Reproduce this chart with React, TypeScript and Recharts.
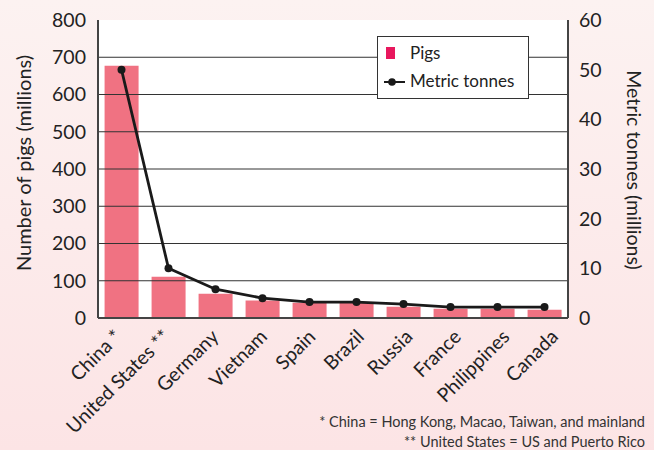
import React from 'react';
import {
  ComposedChart,
  Bar,
  Line,
  XAxis,
  YAxis,
  CartesianGrid,
  ReferenceLine,
  Legend,
} from 'recharts';

const countries = [
  'China *',
  'United States **',
  'Germany',
  'Vietnam',
  'Spain',
  'Brazil',
  'Russia',
  'France',
  'Philippines',
  'Canada',
];
const pigs = [677, 111, 65, 47, 41, 41, 30, 25, 25, 22];
const tonnes = [50, 10, 5.8, 4.0, 3.2, 3.2, 2.8, 2.2, 2.2, 2.2];
const leftTicks = [0, 100, 200, 300, 400, 500, 600, 700, 800];
const rightTicks = [0, 10, 20, 30, 40, 50, 60];
const gridValues = [100, 200, 300, 400, 500, 600, 700];
const seriesNames = ['Pigs', 'Metric tonnes'];
const leftTitle = 'Number of pigs (millions)';
const rightTitle = 'Metric tonnes (millions)';
const footnotes = [
  '* China = Hong Kong, Macao, Taiwan, and mainland',
  '** United States = US and Puerto Rico',
];

const data = countries.map((name, i) => ({ name, pigs: pigs[i], tonnes: tonnes[i] }));

const FONT = 'Lato, "Open Sans", sans-serif';
const TEXT = '#222';
const BAR = '#f07282';
const LEG_SQ = '#e8175d';

const XTick = (props: any) => {
  const { x, y, payload, index } = props;
  const off = 8 + (index - 4.5) * 1.5;
  return (
    <g transform={`translate(${x + off},${y + 20})`}>
      <text
        x={0}
        y={0}
        textAnchor="end"
        transform="rotate(-45)"
        fontSize={19.5}
        fill={TEXT}
        fontFamily={FONT}
      >
        {payload.value}
      </text>
    </g>
  );
};

const LeftTitle = (props: any) => {
  const vb = props.viewBox || { x: 0, y: 20, width: 98, height: 298 };
  const cx = vb.x + 23;
  const cy = vb.y + vb.height / 2 - 6;
  return (
    <text
      x={cx}
      y={cy}
      textAnchor="middle"
      dominantBaseline="central"
      transform={`rotate(-90, ${cx}, ${cy})`}
      fontSize={20}
      fill={TEXT}
      fontFamily={FONT}
    >
      {leftTitle}
    </text>
  );
};

const RightTitle = (props: any) => {
  const vb = props.viewBox || { x: 568, y: 20, width: 86, height: 298 };
  const cx = vb.x + 66;
  const cy = vb.y + vb.height / 2 + 1;
  return (
    <text
      x={cx}
      y={cy}
      textAnchor="middle"
      dominantBaseline="central"
      transform={`rotate(90, ${cx}, ${cy})`}
      fontSize={19.5}
      fill={TEXT}
      fontFamily={FONT}
    >
      {rightTitle}
    </text>
  );
};

const LegendBox = () => (
  <div
    style={{
      width: 152,
      height: 63,
      boxSizing: 'border-box',
      border: '1.5px solid #333',
      background: '#fff',
      position: 'relative',
      fontFamily: FONT,
      fontSize: 17,
      color: TEXT,
    }}
  >
    <div
      style={{
        position: 'absolute',
        left: 8,
        top: 9.5,
        width: 9,
        height: 12,
        background: LEG_SQ,
      }}
    />
    <div style={{ position: 'absolute', left: 32, top: 5, lineHeight: '22px' }}>{seriesNames[0]}</div>
    <svg
      width={22}
      height={12}
      style={{ position: 'absolute', left: 6, top: 38.5 }}
    >
      <line x1={0} y1={6} x2={21} y2={6} stroke="#1a1a1a" strokeWidth={2} />
      <circle cx={8} cy={6} r={3.8} fill="#1a1a1a" />
    </svg>
    <div style={{ position: 'absolute', left: 32, top: 32.5, lineHeight: '22px' }}>{seriesNames[1]}</div>
  </div>
);

export default function App() {
  return (
    <div
      style={{
        position: 'absolute',
        left: 0,
        top: 0,
        width: 654,
        height: 450,
        background: 'linear-gradient(180deg, #fcf2f1 0%, #fce4e5 100%)',
        fontFamily: FONT,
      }}
    >
      <ComposedChart
        width={654}
        height={450}
        data={data}
        margin={{ top: 20, right: 0, bottom: 0, left: 0 }}
        barCategoryGap="14%"
      >
        <CartesianGrid horizontal={false} vertical={false} fill="#fff" fillOpacity={1} />
        {gridValues.map((v) => (
          <ReferenceLine key={v} y={v} yAxisId="left" stroke="#333" strokeWidth={1} />
        ))}
        <XAxis
          dataKey="name"
          height={132}
          interval={0}
          tickLine={false}
          tickSize={0}
          tickMargin={0}
          axisLine={{ stroke: '#444', strokeWidth: 2 }}
          tick={<XTick />}
        />
        <YAxis
          yAxisId="left"
          orientation="left"
          width={98}
          domain={[0, 800]}
          ticks={leftTicks}
          interval={0}
          tickLine={false}
          tickSize={0}
          tickMargin={12}
          axisLine={{ stroke: '#444', strokeWidth: 2 }}
          tick={{ fill: TEXT, fontSize: 19.5, fontFamily: FONT }}
          label={{ content: <LeftTitle /> } as any}
        />
        <YAxis
          yAxisId="right"
          orientation="right"
          width={86}
          domain={[0, 60]}
          ticks={rightTicks}
          interval={0}
          tickLine={false}
          tickSize={0}
          tickMargin={11}
          axisLine={{ stroke: '#444', strokeWidth: 2 }}
          tick={{ fill: TEXT, fontSize: 19.5, fontFamily: FONT }}
          label={{ content: <RightTitle /> } as any}
        />
        <Bar
          yAxisId="left"
          dataKey="pigs"
          name={seriesNames[0]}
          fill={BAR}
          isAnimationActive={false}
        />
        <Line
          yAxisId="right"
          dataKey="tonnes"
          name={seriesNames[1]}
          type="linear"
          stroke="#1a1a1a"
          strokeWidth={2.8}
          dot={{ r: 4, fill: '#1a1a1a', stroke: '#1a1a1a', strokeWidth: 0 }}
          isAnimationActive={false}
        />
        <Legend
          layout="vertical"
          align="center"
          verticalAlign="middle"
          content={<LegendBox />}
          wrapperStyle={{ position: 'absolute', left: 377, top: 36, width: 152, height: 63 }}
        />
      </ComposedChart>
      {footnotes.map((t, i) => (
        <div
          key={i}
          style={{
            position: 'absolute',
            right: 9,
            top: 412 + i * 19.5,
            fontSize: 14.5,
            lineHeight: '20px',
            color: '#333',
            whiteSpace: 'nowrap',
          }}
        >
          {t}
        </div>
      ))}
    </div>
  );
}
